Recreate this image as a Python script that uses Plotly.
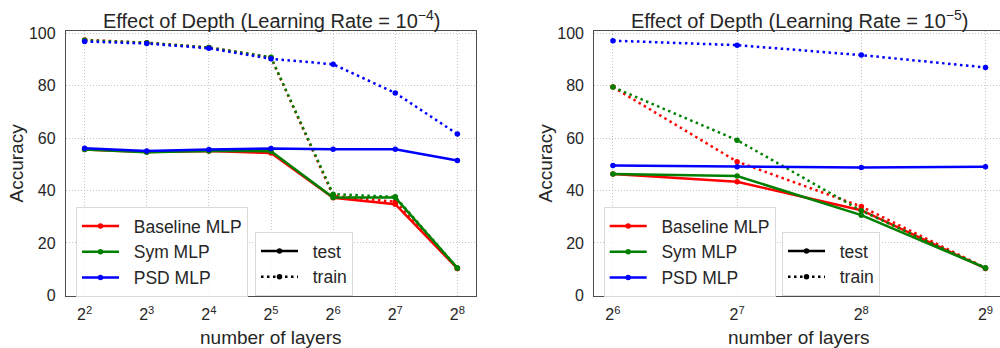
import math
import plotly.graph_objects as go

# ---------------- data ----------------
layers_a = [4, 8, 16, 32, 64, 128, 256]
layers_b = [64, 128, 256, 512]
ticks_a = ["2<sup>2</sup>", "2<sup>3</sup>", "2<sup>4</sup>", "2<sup>5</sup>",
           "2<sup>6</sup>", "2<sup>7</sup>", "2<sup>8</sup>"]
ticks_b = ["2<sup>6</sup>", "2<sup>7</sup>", "2<sup>8</sup>", "2<sup>9</sup>"]
y_ticks = [0, 20, 40, 60, 80, 100]

# Learning rate 1e-4
base_test_a = [55.6, 54.7, 55.1, 54.3, 37.2, 34.8, 10.3]
base_train_a = [97.4, 96.3, 94.5, 90.7, 38.0, 35.7, 10.3]
sym_test_a = [55.6, 54.6, 55.1, 55.0, 37.3, 37.3, 10.5]
sym_train_a = [97.3, 96.3, 94.5, 90.8, 38.6, 37.6, 10.5]
psd_test_a = [56.1, 55.1, 55.6, 56.0, 55.7, 55.7, 51.4]
psd_train_a = [96.8, 96.0, 94.2, 90.2, 88.1, 77.2, 61.5]

# Learning rate 1e-5
base_test_b = [46.3, 43.3, 32.5, 10.3]
base_train_b = [79.4, 51.0, 33.9, 10.5]
sym_test_b = [46.3, 45.5, 30.6, 10.5]
sym_train_b = [79.4, 59.2, 32.3, 10.5]
psd_test_b = [49.5, 49.1, 48.8, 49.1]
psd_train_b = [97.1, 95.4, 91.6, 86.9]

series_names = ["Baseline MLP", "Sym MLP", "PSD MLP"]
style_names = ["test", "train"]
colors = ["#ff0000", "#008000", "#0000ff"]

# ---------------- style ----------------
FONT = "Liberation Sans, Arial, sans-serif"
TXT = "#262626"
FRAME = "#4d4d4d"
GRID = "#c4c4c4"
DOT = "2.5px,3.5px"
LW = 2.5
MS = 5.5
PAD = "\u00a0\u00a0"

fig = go.Figure()


def add(x, y, color, dash, xa, ya, name=None, legend="legend", showlegend=False):
    fig.add_trace(go.Scatter(
        x=x, y=y, mode="lines+markers", name=name,
        line=dict(color=color, width=LW, dash=dash),
        marker=dict(color=color, size=MS),
        xaxis=xa, yaxis=ya, showlegend=showlegend, legend=legend,
    ))


panel_a = [(base_test_a, base_train_a), (sym_test_a, sym_train_a), (psd_test_a, psd_train_a)]
panel_b = [(base_test_b, base_train_b), (sym_test_b, sym_train_b), (psd_test_b, psd_train_b)]

for (te, tr), c, n in zip(panel_a, colors, series_names):
    add(layers_a, te, c, "solid", "x", "y", name=PAD + n, legend="legend", showlegend=True)
    add(layers_a, tr, c, DOT, "x", "y")
for (te, tr), c, n in zip(panel_b, colors, series_names):
    add(layers_b, te, c, "solid", "x2", "y2", name=PAD + n, legend="legend3", showlegend=True)
    add(layers_b, tr, c, DOT, "x2", "y2")

# test / train style legends (black)
for lg, xa, ya in [("legend2", "x", "y"), ("legend4", "x2", "y2")]:
    add([None], [None], "black", "solid", xa, ya, name=PAD + style_names[0], legend=lg, showlegend=True)
    add([None], [None], "black", DOT, xa, ya, name=PAD + style_names[1], legend=lg, showlegend=True)

# ---------------- axes ----------------
L2 = math.log10(2)
H = 348.0
ydom = [(H - 296) / H, (H - 30.7) / H]

common_x = dict(type="log", showline=True, linecolor=FRAME, linewidth=1.3,
                showgrid=True, gridcolor=GRID, griddash="1px,2px", gridwidth=1.2,
                ticks="", zeroline=False,
                tickfont=dict(family=FONT, size=16, color=TXT), ticklabelstandoff=4)
common_y = dict(range=[-0.2, 100.9], showline=True, linecolor=FRAME, linewidth=1.3,
                showgrid=True, gridcolor=GRID, griddash="1px,2px", gridwidth=1.2,
                ticks="", zeroline=False, tickvals=y_ticks,
                tickfont=dict(family=FONT, size=16, color=TXT), ticklabelstandoff=6)

fig.update_layout(
    xaxis=dict(common_x, domain=[66 / 1000, 476 / 1000], anchor="y",
               range=[1.7 * L2, 8.3 * L2], tickvals=layers_a, ticktext=ticks_a, mirror=True),
    yaxis=dict(common_y, domain=ydom, anchor="x", mirror=True),
    xaxis2=dict(common_x, domain=[594.3 / 1000, 1.0], anchor="y2",
                range=[5.85 * L2, 9.117 * L2], tickvals=layers_b, ticktext=ticks_b, mirror=True),
    yaxis2=dict(common_y, domain=ydom, anchor="x2", mirror=False),
)

leg_common = dict(font=dict(family=FONT, size=17.5, color=TXT), bgcolor="rgba(255,255,255,0.85)",
                  bordercolor="#d9d9d9", borderwidth=1, xanchor="left", yanchor="top",
                  itemwidth=37, tracegroupgap=0, traceorder="normal")
fig.update_layout(
    legend=dict(leg_common, x=76 / 1000, y=(H - 207) / H),
    legend2=dict(leg_common, x=255 / 1000, y=(H - 232) / H),
    legend3=dict(leg_common, x=603.7 / 1000, y=(H - 207) / H),
    legend4=dict(leg_common, x=782 / 1000, y=(H - 232) / H),
)

# ---------------- titles ----------------
ann = []
for cx, lr in [(271, "4"), (799, "5")]:
    ann.append(dict(text=f"Effect of Depth (Learning Rate = 10<sup>\u2212{lr}</sup>)",
                    x=cx / 1000, y=(H - 19) / H, xref="paper", yref="paper",
                    xanchor="center", yanchor="middle", showarrow=False,
                    font=dict(family=FONT, size=20, color=TXT)))
    ann.append(dict(text="number of layers", x=cx / 1000, y=(H - 337) / H,
                    xref="paper", yref="paper", xanchor="center", yanchor="middle",
                    showarrow=False, font=dict(family=FONT, size=19, color=TXT)))
for cx in [16, 545]:
    ann.append(dict(text="Accuracy", x=cx / 1000, y=(H - 163.5) / H, textangle=-90,
                    xref="paper", yref="paper", xanchor="center", yanchor="middle",
                    showarrow=False, font=dict(family=FONT, size=19, color=TXT)))

fig.update_layout(
    annotations=ann,
    width=1000, height=348, autosize=False,
    margin=dict(l=0, r=0, t=0, b=0, pad=0, autoexpand=False),
    paper_bgcolor="white", plot_bgcolor="white",
    font=dict(family=FONT, color=TXT),
)

fig.write_html("out.html")
